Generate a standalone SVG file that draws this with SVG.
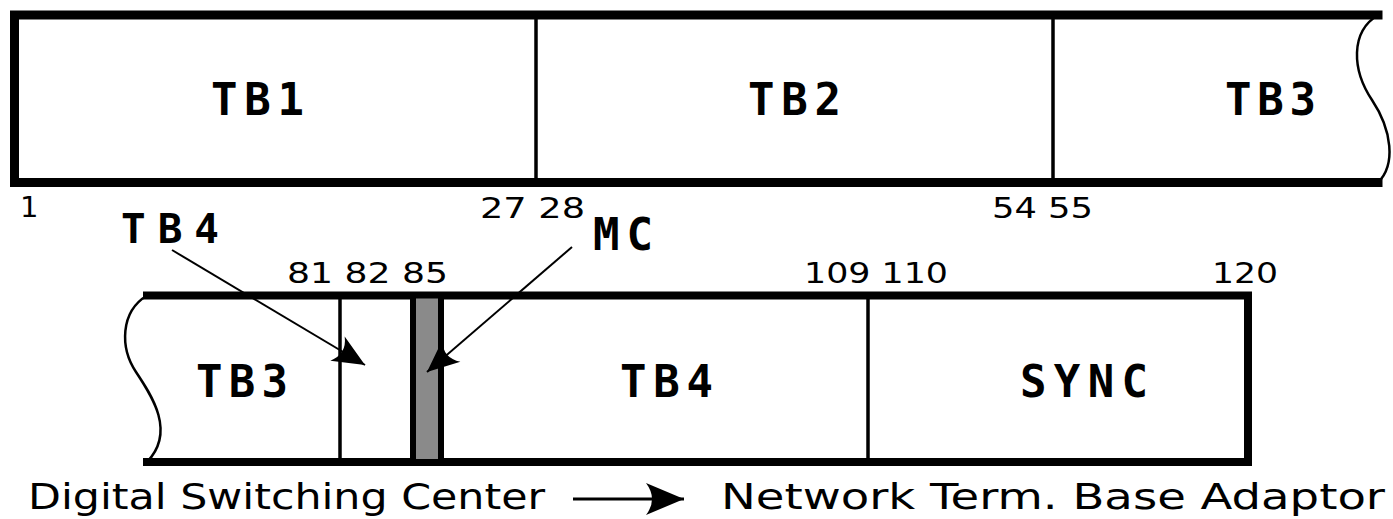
<svg xmlns="http://www.w3.org/2000/svg" width="1393" height="519" viewBox="0 0 1393 519">
<style>
.box{fill:none;stroke:#000;stroke-width:9;stroke-linecap:square}
.wave{fill:none;stroke:#000;stroke-width:2.5}
.div{stroke:#000;stroke-width:3.5}
.lbl{font-family:"DejaVu Sans Mono","Liberation Mono",monospace;font-weight:bold;font-size:44px;fill:#000}
.num{font-family:"DejaVu Sans","Liberation Sans",sans-serif;font-size:29px;fill:#000}
.cap{font-family:"DejaVu Sans","Liberation Sans",sans-serif;font-size:36px;fill:#000}
.conn{fill:none;stroke:#000;stroke-width:2}
</style>
<defs>
<marker id="ah" markerUnits="userSpaceOnUse" viewBox="-34 -15 36 30" markerWidth="36" markerHeight="30" refX="0" refY="0" orient="auto">
<path d="M0,0 L-32,-14 Q-21,0 -32,14 Z" fill="#000"/>
</marker>
<marker id="ahBig" markerUnits="userSpaceOnUse" viewBox="-40 -18 42 36" markerWidth="42" markerHeight="36" refX="0" refY="0" orient="auto">
<path d="M0,0 L-38,-16 Q-26,0 -38,16 Z" fill="#000"/>
</marker>
</defs>
<rect width="1393" height="519" fill="#fff"/>

<g id="frame1">
<path class="box" d="M1378,15 H14.5 V182.5 H1378"/>
<path class="wave" d="M1378,15 C1350,32 1352,70 1372,100 C1392,130 1396,165 1378,182.5"/>
<line class="div" x1="536" y1="15" x2="536" y2="182"/>
<line class="div" x1="1053" y1="15" x2="1053" y2="182"/>
</g>
<g id="tb1"><text class="lbl" x="211" y="115" textLength="93" lengthAdjust="spacing">TB1</text></g>
<g id="tb2"><text class="lbl" x="748" y="115" textLength="93" lengthAdjust="spacing">TB2</text></g>
<g id="tb3a"><text class="lbl" x="1225" y="115" textLength="91" lengthAdjust="spacing">TB3</text></g>

<g id="nums1">
<text class="num" x="20" y="217">1</text>
<text class="num" x="480" y="218" textLength="105" lengthAdjust="spacingAndGlyphs">27 28</text>
<text class="num" x="992" y="218" textLength="101" lengthAdjust="spacingAndGlyphs">54 55</text>
</g>

<g id="frame2">
<path class="box" style="stroke-width:8" d="M147,295.5 H1248 V462 H147"/>
<path class="wave" d="M147,295.5 C120,312 120,348 136,372 C152,396 176,432 147,462"/>
<line class="div" x1="340" y1="295" x2="340" y2="462"/>
<line class="div" x1="868" y1="295" x2="868" y2="462"/>
</g>
<g id="mc-slot"><rect x="413" y="295.5" width="28" height="166.5" fill="#8a8a8a" stroke="#000" stroke-width="6"/></g>
<g id="tb3b"><text class="lbl" x="196" y="397" textLength="92" lengthAdjust="spacing">TB3</text></g>
<g id="tb4b"><text class="lbl" x="620" y="397" textLength="93" lengthAdjust="spacing">TB4</text></g>
<g id="sync"><text class="lbl" x="1020" y="397" textLength="128" lengthAdjust="spacing">SYNC</text></g>

<g id="nums2">
<text class="num" x="287" y="283" textLength="161" lengthAdjust="spacingAndGlyphs">81 82 85</text>
<text class="num" x="804" y="283" textLength="144" lengthAdjust="spacingAndGlyphs">109 110</text>
<text class="num" x="1212" y="283" textLength="66" lengthAdjust="spacingAndGlyphs">120</text>
</g>

<g id="tb4-callout"><text class="lbl" style="font-size:41px" x="121" y="243" textLength="98" lengthAdjust="spacing">TB4</text></g>
<g id="mc-callout"><text class="lbl" x="593" y="250" textLength="60" lengthAdjust="spacing">MC</text></g>

<g id="caption">
<text class="cap" x="28" y="509" textLength="517" lengthAdjust="spacingAndGlyphs">Digital Switching Center</text>
<text class="cap" x="721" y="509" textLength="664" lengthAdjust="spacingAndGlyphs">Network Term. Base Adaptor</text>
</g>

<g id="connectors">
<path class="conn" d="M172,250 L365,365" marker-end="url(#ah)"/>
<path class="conn" d="M572,247 L427,372" marker-end="url(#ah)"/>
<path class="conn" style="stroke-width:3" d="M573,499 L684,499" marker-end="url(#ahBig)"/>
</g>
</svg>
